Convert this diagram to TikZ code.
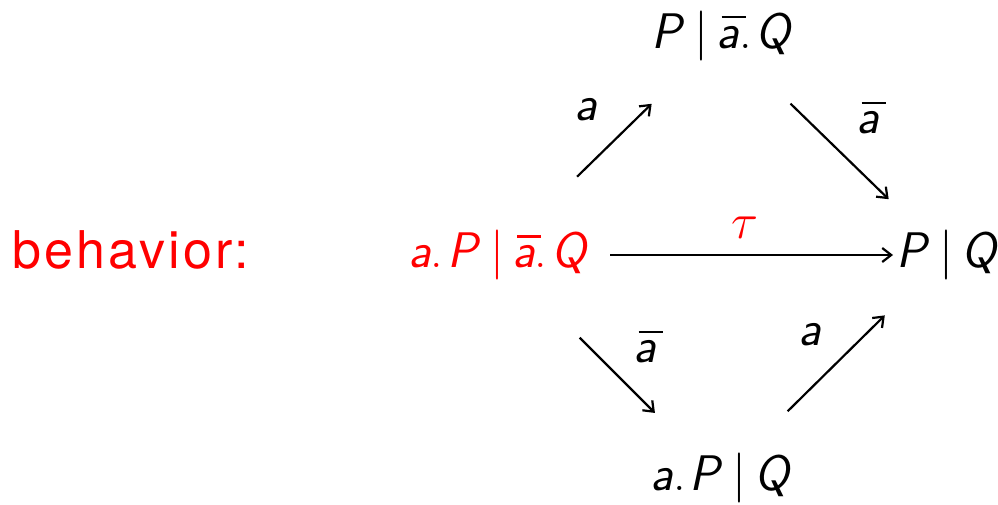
\RequirePackage{fix-cm}
\documentclass[tikz,border=0pt]{standalone}
\usepackage{fontspec}
\newfontfamily\lightsans[LetterSpace=6]{TeX Gyre Heros}
\usetikzlibrary{arrows.meta}
\newcommand\mv[1]{{\sffamily\itshape #1}}
\newcommand\bara{\makebox[0pt][l]{\hspace{0.1em}\rule[0.6em]{0.48em}{0.045em}}\mv{a}}
\newcommand\pipe{\hspace{0.26em}\ensuremath{|}\hspace{0.16em}}
\newcommand\dt{.\hspace{0.08em}}
\tikzset{
  lbl/.style={font=\fontsize{50}{60}\selectfont, inner sep=0pt},
  arr/.style={draw=black, line width=2.2pt, -{Straight Barb[length=9pt,width=14pt,line width=2.2pt]}},
}
\begin{document}
\begin{tikzpicture}[x=1pt,y=-1pt]
\useasboundingbox (0,0) rectangle (998,505);
\node[lbl, text=red, anchor=west, font=\lightsans\fontsize{52}{60}\selectfont] (beh) at (12,250) {behavior:};
\node[lbl, text=red] (L) at (497,255) {\mv{a}\dt\mv{P}\pipe\bara\dt\mv{Q}};
\node[lbl] (R) at (946,255) {\mv{P}\pipe\mv{Q}};
\node[lbl] (T) at (721,36) {\mv{P}\pipe\bara\dt\mv{Q}};
\node[lbl] (B) at (720,478) {\mv{a}\dt\mv{P}\pipe\mv{Q}};
\draw[arr, shorten <=113pt, shorten >=53pt] (L.center) -- (R.center);
\draw[arr, shorten <=112pt, shorten >=97pt] (L.center) -- (T.center);
\draw[arr, shorten <=97pt, shorten >=80pt] (T.center) -- (R.center);
\draw[arr, shorten <=117pt, shorten >=92pt] (L.center) -- (B.center);
\draw[arr, shorten <=95pt, shorten >=86pt] (B.center) -- (R.center);
\node[lbl] (la1) at (586,110) {\mv{a}};
\node[lbl] (la2) at (868,118) {\bara};
\node[lbl, text=red] (lt) at (745,228) {$\tau$};
\node[lbl] (la3) at (645,347) {\bara};
\node[lbl] (la4) at (810,335) {\mv{a}};
\end{tikzpicture}
\end{document}
